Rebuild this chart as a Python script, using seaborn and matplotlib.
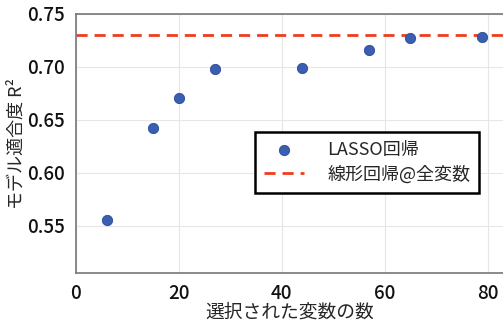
import matplotlib
matplotlib.use("Agg")
import matplotlib.pyplot as plt
import seaborn as sns
import pandas as pd

# LASSO: number of selected variables vs. model fit R^2
n_selected = [6, 15, 20, 27, 44, 57, 65, 79]
r2_lasso = [0.556, 0.642, 0.671, 0.698, 0.699, 0.716, 0.727, 0.728]
# Linear regression using all variables
r2_full_linear = 0.7305

x_ticks = [0, 20, 40, 60, 80]
y_ticks = [0.55, 0.60, 0.65, 0.70, 0.75]

sns.set_theme(style="whitegrid")
plt.rcParams["font.family"] = ["Noto Sans CJK JP", "DejaVu Sans"]

df = pd.DataFrame({"n": n_selected, "r2": r2_lasso})

fig = plt.figure(figsize=(5.03, 3.24), dpi=100)
ax = fig.add_axes([0.151, 0.157, 0.849, 0.8])

sns.scatterplot(data=df, x="n", y="r2", ax=ax, color="#3a5fb0", s=55,
                edgecolor="#2a4a9a", linewidth=0.6, label="LASSO回帰", zorder=3)
ax.axhline(r2_full_linear, color="#f03c1e", linestyle="--", linewidth=2,
           dashes=(4, 2.5), label="線形回帰@全変数", zorder=2)

ax.set_xlim(0, 83)
ax.set_ylim(0.5055, 0.75)
ax.set_xticks(x_ticks)
ax.set_yticks(y_ticks)
ax.set_yticklabels([f"{v:.2f}" for v in y_ticks])
ax.tick_params(labelsize=13.5, pad=2, colors="#111111")
for lbl in ax.get_xticklabels() + ax.get_yticklabels():
    lbl.set_fontweight("medium")
ax.grid(color="#e6e6e6", linewidth=0.8)

for side in ["left", "bottom", "top"]:
    ax.spines[side].set_visible(True)
    ax.spines[side].set_color("#777777")
    ax.spines[side].set_linewidth(1.2)
ax.spines["right"].set_visible(False)

ax.set_xlabel("選択された変数の数", fontsize=13.5, labelpad=-1)
ax.set_ylabel("モデル適合度 R²", fontsize=13, labelpad=1)

leg = ax.legend(loc="upper left", bbox_to_anchor=(0.419, 0.545), borderaxespad=0,
                fontsize=13, frameon=True, fancybox=False, borderpad=0.5,
                handlelength=2.2, handletextpad=1.3, labelspacing=0.35)
leg.get_frame().set_edgecolor("black")
leg.get_frame().set_linewidth(1.8)
leg.get_frame().set_alpha(1)

fig.savefig("out.png", dpi=100)
